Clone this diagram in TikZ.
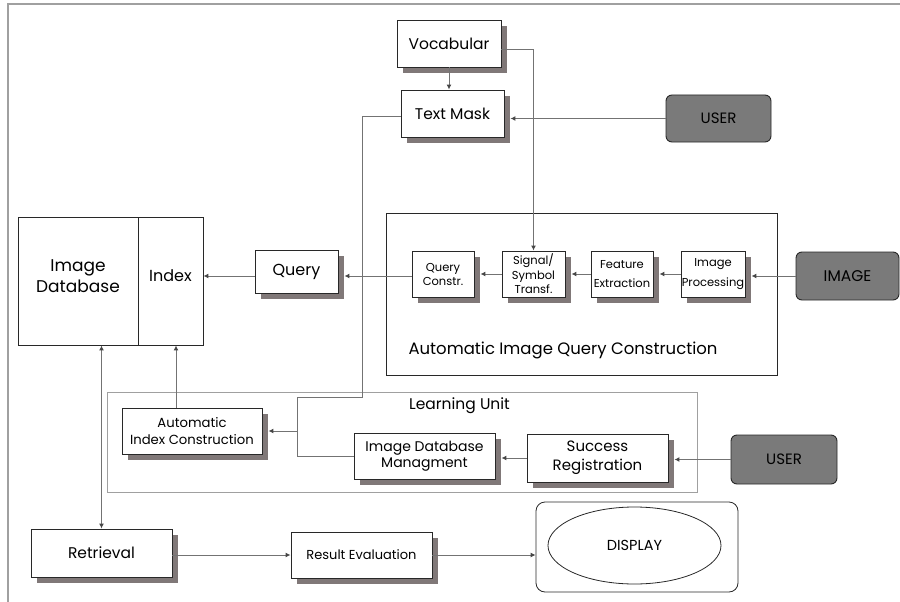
\documentclass[tikz,border=0pt]{standalone}
\usepackage{fontspec}
\setmainfont{Poppins}
\usetikzlibrary{shadows,arrows.meta,shapes.geometric}
\definecolor{shadowgray}{RGB}{128,120,120}
\definecolor{linegray}{RGB}{115,115,115}
\definecolor{boxline}{RGB}{40,40,40}
\definecolor{userfill}{RGB}{122,122,122}
\definecolor{framegray}{RGB}{160,160,160}
\definecolor{tipgray}{RGB}{70,70,70}
\begin{document}
\begin{tikzpicture}[x=1pt,y=-1pt,
  fs/.style 2 args={font=\fontsize{#1}{#2}\selectfont},
  box/.style={draw=boxline, fill=white, line width=0.9pt, inner sep=0pt, align=center,
    drop shadow={shadow xshift=6pt, shadow yshift=-6pt, fill=shadowgray, opacity=1}},
  plainbox/.style={draw=boxline, fill=white, line width=0.9pt, inner sep=0pt},
  userbox/.style={draw=boxline, fill=userfill, line width=0.9pt, rounded corners=6pt, inner sep=0pt},
  darkframe/.style={draw=boxline, line width=0.8pt, inner sep=0pt},
  lightframe/.style={draw=framegray, line width=1pt, inner sep=0pt},
  lbl/.style={inner sep=0pt, align=center},
  conn/.style={draw=linegray, line width=1pt},
  arr/.style={conn, -{Latex[length=5pt,width=5pt,color=tipgray]}},
  arrtwo/.style={conn, {Latex[length=5pt,width=5pt,color=tipgray]}-{Latex[length=5pt,width=5pt,color=tipgray]}}
]
\useasboundingbox (0,0) rectangle (900,602);
\draw[framegray, line width=1.8pt] (8,602) -- (8,4) -- (900,4);

% frames
\node[darkframe, minimum width=391pt, minimum height=162pt] (aiqc) at (581.5,294) {};
\node[lbl, fs={16.5}{20}] (aiqcl) at (563,350) {Automatic Image Query Construction};
\node[lightframe, minimum width=590pt, minimum height=100pt] (lu) at (402,442) {};
\node[lbl, fs={15.5}{19}] (lul) at (459.5,406) {Learning Unit};
\node[darkframe, rounded corners=9pt, minimum width=202pt, minimum height=90pt] (disp) at (637,547) {};
\node[draw=boxline, line width=0.8pt, ellipse, minimum width=173pt, minimum height=77pt, inner sep=0pt, fs={14.5}{18}] (ell) at (634.5,545.5) {DISPLAY};

% boxes
\node[box, fs={15.5}{19}, minimum width=104pt, minimum height=47pt] (voc) at (449,43.5) {Vocabular};
\node[box, fs={15.5}{19}, minimum width=103pt, minimum height=47pt] (tm) at (452.5,113.5) {Text Mask};
\node[userbox, fs={15}{18}, minimum width=105pt, minimum height=47pt] (u1) at (718.5,118.5) {USER};
\node[plainbox, minimum width=120pt, minimum height=128pt] (db) at (78,281) {};
\node[plainbox, minimum width=65pt, minimum height=128pt] (idx) at (170.5,281) {};
\node[lbl, fs={17}{21}] (dbt) at (78,276) {Image\\Database};
\node[lbl, fs={16}{20}] (idxt) at (170.5,276) {Index};
\node[box, fs={16}{20}, minimum width=83pt, minimum height=43pt] (qry) at (296.5,271.5) {Query};
\node[box, fs={11.5}{14}, minimum width=62pt, minimum height=46pt] (qc) at (443,274) {Query\\Constr.};
\node[box, fs={11.5}{14.5}, minimum width=63pt, minimum height=46pt] (sig) at (533.5,274) {Signal/\\Symbol\\Transf.};
\node[box, fs={11.5}{19.5}, minimum width=62pt, minimum height=46pt] (fe) at (622,274) {Feature\\Extraction};
\node[box, fs={11.5}{19.5}, minimum width=64pt, minimum height=46pt] (ip) at (713,274) {Image\\Processing};
\node[userbox, fs={15.5}{19}, minimum width=103pt, minimum height=48pt] (img) at (847.5,276) {IMAGE};
\node[box, fs={13.2}{16.5}, minimum width=140pt, minimum height=46pt] (aic) at (192,431) {Automatic\\Index Construction};
\node[box, fs={14}{16.5}, minimum width=141pt, minimum height=46pt] (idbm) at (424.5,456) {Image Database\\Managment};
\node[box, fs={15}{19}, minimum width=141pt, minimum height=48pt] (sr) at (597.5,458) {Success\\Registration};
\node[userbox, fs={15}{18}, minimum width=106pt, minimum height=49pt] (u2) at (784,459.5) {USER};
\node[box, fs={15.5}{19}, minimum width=141pt, minimum height=48pt] (ret) at (101.5,553) {Retrieval};
\node[box, fs={13}{16}, minimum width=141pt, minimum height=46pt] (re) at (361.5,555) {Result Evaluation};

% helper coordinates
\coordinate (tmE) at ([xshift=6pt]tm.east);
\coordinate (vocR) at ([yshift=-6.5pt]voc.east);
\coordinate (tmW) at ([yshift=-2.5pt]tm.west);
\coordinate (j1) at (362,397);
\coordinate (j2) at (297,397);
\coordinate (aicE) at ([xshift=6pt]aic.east);
\coordinate (ixb) at ([xshift=5.5pt]idx.south);
\coordinate (qW) at ([yshift=-4.5pt]qry.west);
\coordinate (qryE) at ([xshift=6pt]qry.east);
\coordinate (qcE) at ([xshift=6pt]qc.east);
\coordinate (sigE) at ([xshift=6pt]sig.east);
\coordinate (feE) at ([xshift=6pt]fe.east);
\coordinate (ipE) at ([xshift=6pt]ip.east);
\coordinate (idbmE) at ([xshift=6pt]idbm.east);
\coordinate (srE) at ([xshift=6pt]sr.east);

% connectors
\draw[arr] (voc.south) -- (voc.south |- tm.north);
\draw[arr] (vocR) -| (sig.north);
\draw[arr] (u1.west) -- (u1.west -| tmE);
\draw[conn] (tmW) -| (j1) -- (j2) |- (idbm.west);
\draw[arr] (j2 |- aic.east) -- (aicE);
\draw[arr] (aic.north -| ixb) -- (ixb);
\draw[arrtwo] (ret.north |- db.south) -- (ret.north);
\draw[arr] (qW) -- (qW -| idx.east);
\draw[arr] (qc.west |- qW) -- (qW -| qryE);
\draw[arr] (sig.west) -- (sig.west -| qcE);
\draw[arr] (fe.west) -- (fe.west -| sigE);
\draw[arr] (ip.west) -- (ip.west -| feE);
\draw[arr] (img.west) -- (img.west -| ipE);
\draw[arr] (sr.west) -- (sr.west -| idbmE);
\draw[arr] (u2.west) -- (u2.west -| srE);
\draw[arr] (re.west -| ret.east) -- (re.west);
\draw[arr] (re.east) -- (re.east -| disp.west);
\end{tikzpicture}
\end{document}
